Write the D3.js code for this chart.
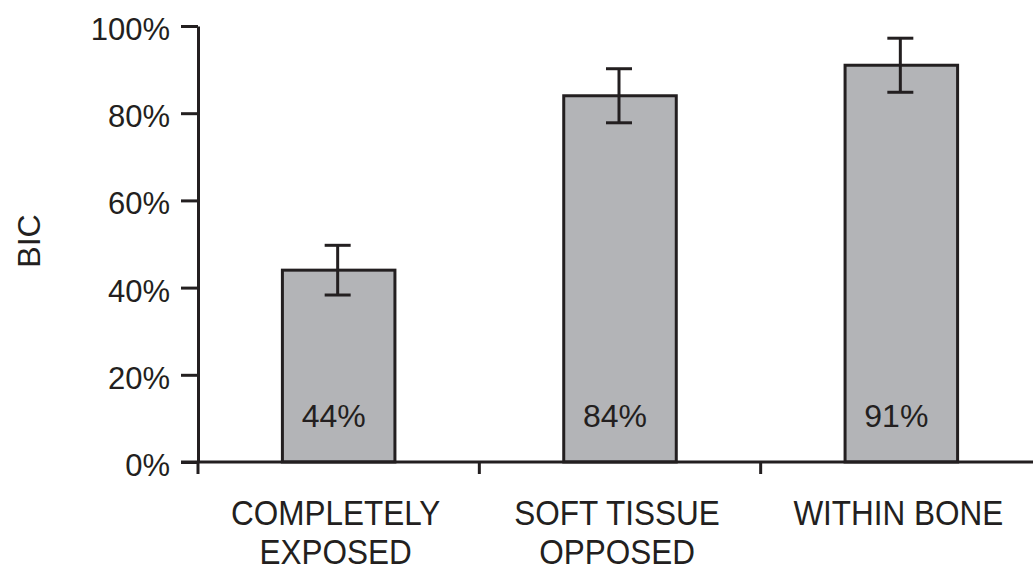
<!DOCTYPE html>
<html>
<head>
<meta charset="utf-8">
<script src="https://cdn.jsdelivr.net/npm/d3@7"></script>
<style>
  body { margin: 0; background: #fff; }
  text { font-family: "Liberation Sans", Arial, sans-serif; fill: #231f20; }
</style>
</head>
<body>
<div id="chart"></div>
<script>
// data
const categories = ["COMPLETELY EXPOSED", "SOFT TISSUE OPPOSED", "WITHIN BONE"];
const categoryLines = [["COMPLETELY", "EXPOSED"], ["SOFT TISSUE", "OPPOSED"], ["WITHIN BONE"]];
const bicValues = [44, 84, 91];
const bicErrors = [5.7, 6.2, 6.2];
const yTicks = [0, 20, 40, 60, 80, 100];

const width = 1033, height = 570;
const ink = "#231f20";

const svg = d3.select("#chart")
  .append("svg")
  .attr("width", width)
  .attr("height", height);

const x = d3.scaleBand()
  .domain(categories)
  .range([198, 1042])
  .padding(0);

const y = d3.scaleLinear()
  .domain([0, 100])
  .range([462, 26]);

const barW = x.bandwidth() * 0.4;

// bars
svg.append("g")
  .selectAll("rect")
  .data(bicValues)
  .join("rect")
    .attr("x", (d, i) => x(categories[i]) + x.bandwidth() / 2 - barW / 2)
    .attr("y", d => y(d))
    .attr("width", barW)
    .attr("height", d => y(0) - y(d))
    .attr("fill", "#b3b4b7")
    .attr("stroke", ink)
    .attr("stroke-width", 3);

// error bars
const err = svg.append("g").attr("stroke", ink).attr("stroke-width", 3);
bicValues.forEach((v, i) => {
  const cx = x(categories[i]) + x.bandwidth() / 2 - 1;
  const hi = y(v + bicErrors[i]), lo = y(v - bicErrors[i]);
  err.append("line").attr("x1", cx).attr("x2", cx).attr("y1", hi).attr("y2", lo);
  err.append("line").attr("x1", cx - 13).attr("x2", cx + 13).attr("y1", hi).attr("y2", hi);
  err.append("line").attr("x1", cx - 13).attr("x2", cx + 13).attr("y1", lo).attr("y2", lo);
});

// value labels inside bars
svg.append("g")
  .selectAll("text")
  .data(bicValues)
  .join("text")
    .attr("x", (d, i) => x(categories[i]) + x.bandwidth() / 2 - 5)
    .attr("y", 427)
    .attr("text-anchor", "middle")
    .style("font-size", "32px")
    .text(d => d + "%");

// y axis
const yAxis = svg.append("g")
  .attr("transform", "translate(198,0)")
  .call(d3.axisLeft(y)
    .tickValues(yTicks)
    .tickFormat(d => d + "%")
    .tickSize(17)
    .tickSizeOuter(0)
    .tickPadding(11));
yAxis.select(".domain").attr("stroke", ink).attr("stroke-width", 3);
yAxis.selectAll(".tick line").attr("stroke", ink).attr("stroke-width", 3);
yAxis.selectAll(".tick text")
  .attr("dy", "13.5")
  .style("font-size", "31px")
  .attr("fill", ink);

// x axis
const xAxis = svg.append("g").attr("stroke", ink).attr("stroke-width", 3);
xAxis.append("line")
  .attr("x1", 181).attr("x2", width)
  .attr("y1", y(0)).attr("y2", y(0));
xAxis.selectAll(".xt")
  .data(categories)
  .join("line")
    .attr("class", "xt")
    .attr("x1", d => x(d)).attr("x2", d => x(d))
    .attr("y1", y(0)).attr("y2", y(0) + 12);

// category labels
categoryLines.forEach((lines, i) => {
  const cx = x(categories[i]) + x.bandwidth() / 2 - 3;
  lines.forEach((t, j) => {
    svg.append("text")
      .attr("transform", `translate(${cx},${525 + j * 39}) scale(0.9,1)`)
      .attr("text-anchor", "middle")
      .style("font-size", "35px")
      .text(t);
  });
});

// y axis title
svg.append("text")
  .attr("transform", "translate(40,241) rotate(-90)")
  .attr("text-anchor", "middle")
  .style("font-size", "32px")
  .text("BIC");
</script>
</body>
</html>
